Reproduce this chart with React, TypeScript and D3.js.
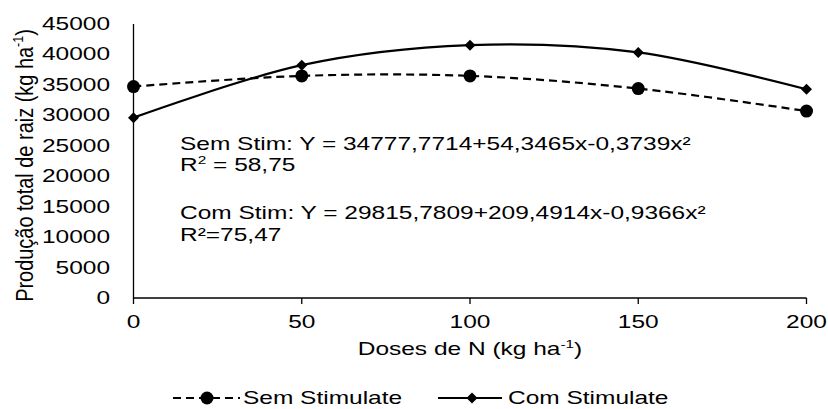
import React from "react";
import * as d3 from "d3";

const doses = [0, 50, 100, 150, 200];
const semStim = [34730, 36480, 36480, 34400, 30700];
const comStim = [29620, 38240, 41530, 40330, 34280];
const yTicks = [0, 5000, 10000, 15000, 20000, 25000, 30000, 35000, 40000, 45000];
const xTicks = [0, 50, 100, 150, 200];

const W = 828;
const H = 409;
const FONT = "'Liberation Sans', Arial, sans-serif";
const FS = 17.5;
const SX = 1.4;

function SText(props: { x: number; y: number; anchor?: string; children: React.ReactNode }) {
  return (
    <text
      transform={`translate(${props.x},${props.y}) scale(${SX},1)`}
      textAnchor={props.anchor || "start"}
      fontFamily={FONT}
      fontSize={FS}
      fill="#000"
    >
      {props.children}
    </text>
  );
}

function diamond(cx: number, cy: number, r: number) {
  return `M${cx},${cy - r}L${cx + r},${cy}L${cx},${cy + r}L${cx - r},${cy}Z`;
}

export default function App() {
  const x = d3.scaleLinear().domain([0, 200]).range([133.5, 806.5]);
  const y = d3.scaleLinear().domain([0, 45000]).range([298, 24]);
  const line = d3
    .line<number>()
    .x((_, i) => x(doses[i]))
    .y((d) => y(d))
    .curve(d3.curveCardinal.tension(0));

  const legY = 398;

  return (
    <svg
      width={W}
      height={H}
      style={{ position: "absolute", left: 0, top: 0, background: "#fff" }}
    >
      <rect width={W} height={H} fill="#fff" />
      {/* axes */}
      <line x1={x(0)} x2={x(0)} y1={y(45000)} y2={y(0)} stroke="#000" strokeWidth={1.3} />
      <line x1={x(0)} x2={x(200)} y1={y(0)} y2={y(0)} stroke="#000" strokeWidth={1.3} />
      {xTicks.map((t) => (
        <g key={t}>
          <line x1={x(t)} x2={x(t)} y1={y(0)} y2={y(0) + 6} stroke="#000" strokeWidth={1.3} />
          <SText x={x(t)} y={328} anchor="middle">{t}</SText>
        </g>
      ))}
      {yTicks.map((t) => (
        <SText key={t} x={110} y={y(t) + 6} anchor="end">{t}</SText>
      ))}
      {/* axis titles */}
      <text
        transform={`translate(33,165.5) rotate(-90) scale(1.14,${SX})`}
        textAnchor="middle"
        fontFamily={FONT}
        fontSize={FS}
      >
        Produção total de raiz (kg ha
        <tspan fontSize={11} dy={-7}>-1</tspan>
        <tspan dy={7}>)</tspan>
      </text>
      <SText x={470} y={355} anchor="middle">
        Doses de N (kg ha
        <tspan fontSize={11} dy={-7}>-1</tspan>
        <tspan dy={7}>)</tspan>
      </SText>
      {/* series */}
      <path d={line(semStim) || ""} fill="none" stroke="#000" strokeWidth={2.2} strokeDasharray="8,5" />
      <path d={line(comStim) || ""} fill="none" stroke="#000" strokeWidth={2.2} />
      {semStim.map((v, i) => (
        <circle key={"s" + i} cx={x(doses[i])} cy={y(v)} r={6.5} fill="#000" />
      ))}
      {comStim.map((v, i) => (
        <path key={"c" + i} d={diamond(x(doses[i]), y(v), 5.5)} fill="#000" />
      ))}
      {/* annotations */}
      <SText x={180} y={150}>Sem Stim: Y = 34777,7714+54,3465x-0,3739x²</SText>
      <SText x={180} y={171}>
        R<tspan fontSize={11} dy={-7}>2</tspan>
        <tspan dy={7}> = 58,75</tspan>
      </SText>
      <SText x={180} y={219}>Com Stim: Y = 29815,7809+209,4914x-0,9366x²</SText>
      <SText x={180} y={241}>R²=75,47</SText>
      {/* legend */}
      <line x1={173} x2={240} y1={legY} y2={legY} stroke="#000" strokeWidth={2.2} strokeDasharray="8,5" />
      <circle cx={207} cy={legY} r={6.5} fill="#000" />
      <SText x={243} y={legY + 6}>Sem Stimulate</SText>
      <line x1={438} x2={502} y1={legY} y2={legY} stroke="#000" strokeWidth={2.2} />
      <path d={diamond(472, legY, 5.5)} fill="#000" />
      <SText x={508} y={legY + 6}>Com Stimulate</SText>
    </svg>
  );
}
